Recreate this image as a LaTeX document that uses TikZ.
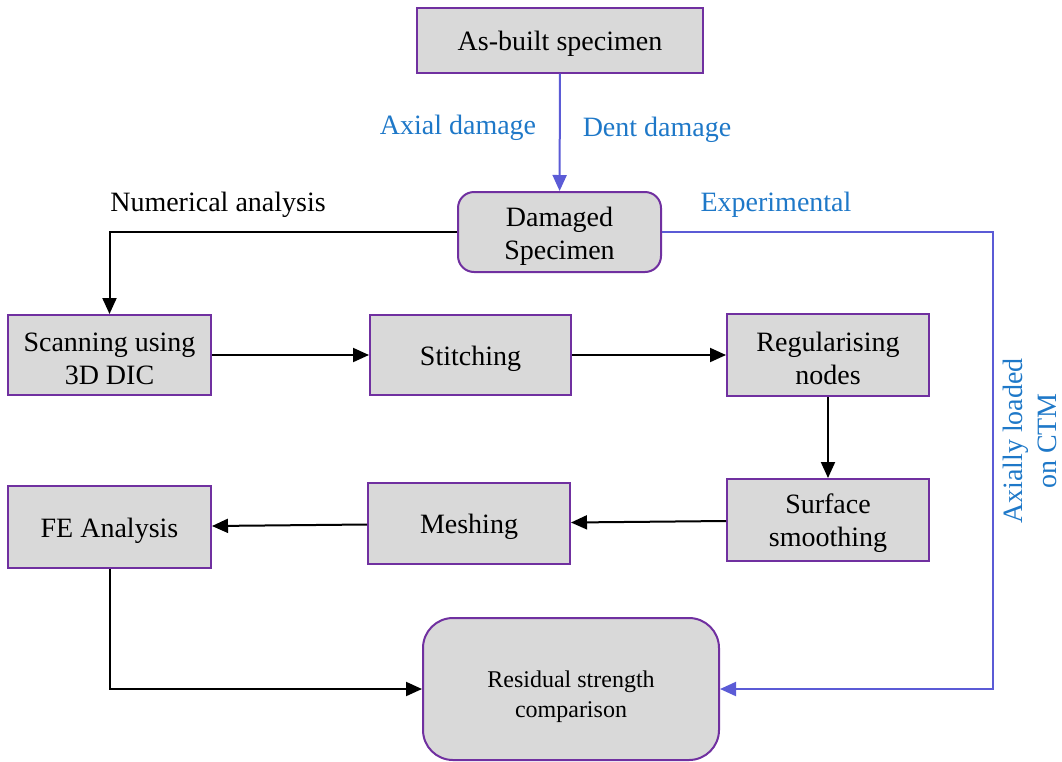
\documentclass[tikz,border=0pt]{standalone}
\usepackage{fontspec}
\setmainfont{Liberation Serif}
\usetikzlibrary{arrows.meta}
\definecolor{boxfill}{RGB}{217,217,217}
\definecolor{boxline}{RGB}{112,48,160}
\definecolor{exparrow}{RGB}{91,91,214}
\definecolor{labblue}{RGB}{30,120,200}
\newcommand\lowtxt{\rule{0pt}{27pt}}
\newcommand\lowertxt{\rule{0pt}{32.5pt}}
\tikzset{
  stepbox/.style={draw=boxline, fill=boxfill, line width=2pt, inner sep=0pt, align=center,
    font=\fontsize{28}{33}\selectfont},
  roundbox/.style={stepbox, rounded corners=16pt},
  blk/.style={draw=black, line width=2pt, -{Triangle[length=16pt,width=14pt]}},
  blu/.style={draw=exparrow, line width=2pt, -{Triangle[length=16pt,width=14pt]}},
  lab/.style={font=\fontsize{28}{33}\selectfont, inner sep=0pt},
  bluelab/.style={lab, text=labblue},
}
\begin{document}
\begin{tikzpicture}[x=1pt,y=-1pt]
\useasboundingbox (0,0) rectangle (1062,761);
\node[stepbox, minimum width=286pt, minimum height=65pt] (asbuilt) at (560,40) {\lowtxt As-built specimen};
\node[roundbox, minimum width=203pt, minimum height=80pt] (damaged) at (559.5,232) {\lowtxt Damaged\\Specimen};
\node[stepbox, minimum width=203pt, minimum height=80pt] (scan) at (109.5,355) {\lowtxt Scanning using\\3D DIC};
\node[stepbox, minimum width=201pt, minimum height=80pt] (stitch) at (470.5,355) {\lowtxt Stitching};
\node[stepbox, minimum width=202pt, minimum height=82pt] (reg) at (828,355) {\lowtxt Regularising\\nodes};
\node[stepbox, minimum width=202pt, minimum height=82pt] (surf) at (828,520) {\lowtxt Surface\\smoothing};
\node[stepbox, minimum width=202pt, minimum height=81pt] (mesh) at (469,523.5) {\lowtxt Meshing};
\node[stepbox, minimum width=203pt, minimum height=82pt] (fe) at (109.5,527) {\lowtxt FE Analysis};
\node[stepbox, rounded corners=30pt, minimum width=296pt, minimum height=142pt,
  font=\fontsize{24}{30}\selectfont] (resid) at (571,689) {\lowertxt Residual strength\\comparison};

\node[bluelab] (axlab) at (458,128) {Axial damage};
\node[bluelab] (dentlab) at (657,130) {Dent damage};
\node[lab] (numlab) at (218,205) {Numerical analysis};
\node[bluelab] (explab) at (776,205) {Experimental};
\node[bluelab, rotate=90, align=center, font=\fontsize{28}{34}\selectfont] (ctmlab) at (1030,441) {Axially loaded\\on CTM};

\coordinate (expcorner) at (993,232);

\draw[blu] (asbuilt) -- (damaged);
\draw[blk] (damaged.west) -| (scan.north);
\draw[blk] (scan) -- (stitch);
\draw[blk] (stitch) -- (reg);
\draw[blk] (reg) -- (surf);
\draw[blk] (surf) -- (mesh);
\draw[blk] (mesh) -- (fe);
\draw[blk] (fe.south) |- (resid.west);
\draw[blu] (damaged.east) -- (expcorner) |- (resid.east);
\end{tikzpicture}
\end{document}
